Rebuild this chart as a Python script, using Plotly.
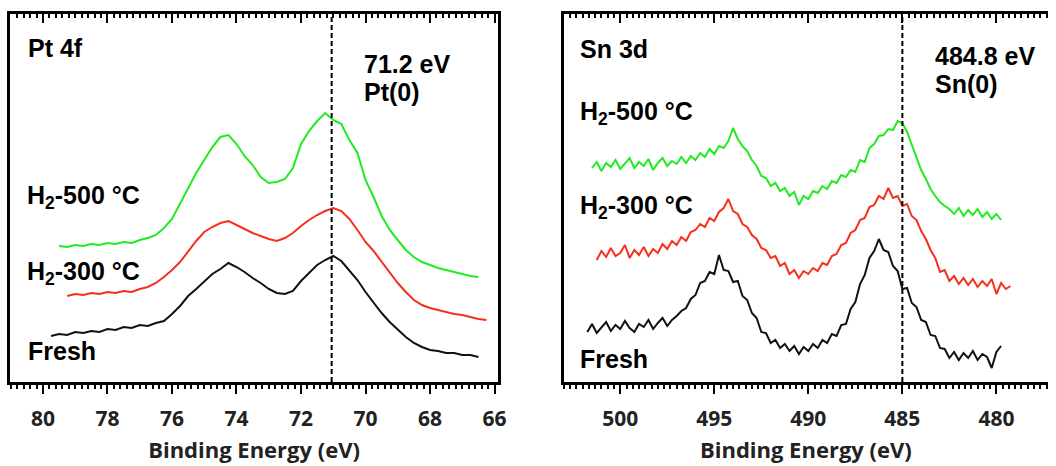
import plotly.graph_objects as go

# ---------------- data ----------------
pt_energy = [79.75, 79.5, 79.25, 79.0, 78.75, 78.5, 78.25, 78.0, 77.75, 77.5, 77.25, 77.0,
             76.75, 76.5, 76.25, 76.0, 75.75, 75.5, 75.25, 75.0, 74.75, 74.5, 74.25, 74.0,
             73.75, 73.5, 73.25, 73.0, 72.75, 72.5, 72.25, 72.0, 71.75, 71.5, 71.25, 71.0,
             70.75, 70.5, 70.25, 70.0, 69.75, 69.5, 69.25, 69.0, 68.75, 68.5, 68.25, 68.0,
             67.75, 67.5, 67.25, 67.0, 66.75, 66.5, 66.25, 66.0, 65.75]
pt_fresh = [46, 48, 47, 50, 49, 51, 50, 53, 52, 55, 54, 57,
            56, 59, 61, 68, 76, 86, 93, 101, 108, 113, 119, 115,
            110, 104, 99, 93, 89, 88, 91, 101, 109, 117, 122, 126,
            121, 112, 102, 90, 79, 69, 60, 52, 45, 39, 35, 32,
            31, 29, 29, 27, 27, 25, None, None, None]
pt_h300 = [None, None, 86, 88, 87, 89, 88, 90, 89, 91, 90, 93,
           95, 99, 105, 112, 120, 131, 141, 150, 155, 159, 161, 157,
           153, 149, 146, 143, 141, 144, 149, 156, 162, 167, 171, 174,
           171, 163, 152, 140, 131, 120, 110, 99, 90, 82, 77, 74,
           72, 70, 68, 67, 65, 63, 62, None, None]
pt_h500 = [None, 136, 135, 137, 136, 138, 137, 139, 138, 140, 139, 142,
           144, 147, 154, 163, 178, 194, 209, 222, 235, 245, 247, 238,
           226, 217, 205, 199, 200, 203, 214, 238, 251, 261, 269, 262,
           258, 242, 229, 202, 185, 166, 152, 142, 132, 125, 120, 117,
           114, 112, 110, 108, 106, 105, None, None, None]
pt_ref_energy = 71.05

sn_energy = [501.75, 501.5, 501.25, 501.0, 500.75, 500.5, 500.25, 500.0, 499.75, 499.5,
             499.25, 499.0, 498.75, 498.5, 498.25, 498.0, 497.75, 497.5, 497.25, 497.0,
             496.75, 496.5, 496.25, 496.0, 495.75, 495.5, 495.25, 495.0, 494.75, 494.5,
             494.25, 494.0, 493.75, 493.5, 493.25, 493.0, 492.75, 492.5, 492.25, 492.0,
             491.75, 491.5, 491.25, 491.0, 490.75, 490.5, 490.25, 490.0, 489.75, 489.5,
             489.25, 489.0, 488.75, 488.5, 488.25, 488.0, 487.75, 487.5, 487.25, 487.0,
             486.75, 486.5, 486.25, 486.0, 485.75, 485.5, 485.25, 485.0, 484.75, 484.5,
             484.25, 484.0, 483.75, 483.5, 483.25, 483.0, 482.75, 482.5, 482.25, 482.0,
             481.75, 481.5, 481.25, 481.0, 480.75, 480.5, 480.25, 480.0, 479.75, 479.5,
             479.25]
sn_fresh = [50, 58, 49, 55, 60, 51, 57, 53, 61, 54,
            50, 58, 55, 62, 53, 59, 64, 56, 62, 66,
            71, 74, 83, 87, 99, 101, 110, 108, 127, 112,
            111, 100, 101, 86, 82, 69, 64, 50, 49, 39,
            42, 34, 38, 31, 36, 28, 35, 31, 38, 34,
            42, 39, 48, 46, 57, 58, 73, 80, 98, 107,
            124, 131, 143, 132, 130, 116, 111, 93, 94, 79,
            75, 62, 60, 47, 46, 34, 33, 24, 30, 22,
            29, 24, 31, 22, 28, 25, 14, 30, 36, None,
            None]
sn_h300 = [None, None, 122, 131, 125, 134, 126, 129, 137, 124,
           132, 127, 135, 126, 133, 129, 138, 133, 141, 137,
           145, 141, 150, 152, 158, 155, 164, 161, 170, 174,
           183, 171, 168, 158, 155, 147, 143, 134, 132, 124,
           126, 116, 119, 108, 112, 104, 111, 108, 114, 111,
           119, 117, 126, 128, 137, 139, 149, 152, 162, 164,
           175, 177, 186, 183, 194, 184, 186, 176, 178, 166,
           162, 151, 143, 132, 124, 110, 112, 101, 106, 98,
           104, 97, 103, 95, 101, 96, 103, 88, 99, 93,
           96]
sn_h500 = [None, 214, 220, 211, 219, 215, 222, 213, 218, 224,
           214, 220, 216, 223, 212, 219, 224, 216, 221, 218,
           225, 219, 226, 222, 229, 225, 233, 228, 236, 234,
           241, 254, 243, 236, 231, 222, 216, 206, 204, 196,
           199, 191, 194, 186, 190, 177, 186, 183, 191, 189,
           196, 193, 201, 199, 207, 205, 212, 210, 222, 220,
           234, 238, 246, 247, 253, 252, 261, 259, 250, 238,
           224, 212, 203, 193, 186, 180, 176, 173, 168, 174,
           166, 172, 167, 173, 165, 170, 163, 168, 162, None,
           None]
sn_ref_energy = 485.0

y_span = [0, 368]

GREEN = "#22ea22"
RED = "#f5301c"
BLACK = "#111111"

fig = go.Figure()

def add_curves(xs, series, xa, ya):
    for vals, col in series:
        fig.add_trace(go.Scatter(x=xs, y=vals, mode="lines", xaxis=xa, yaxis=ya,
                                 line=dict(color=col, width=2), connectgaps=False,
                                 showlegend=False, hoverinfo="skip"))

add_curves(pt_energy, [(pt_h500, GREEN), (pt_h300, RED), (pt_fresh, BLACK)], "x", "y")
add_curves(sn_energy, [(sn_h500, GREEN), (sn_h300, RED), (sn_fresh, BLACK)], "x2", "y2")

# dashed reference lines, drawn on the top axes (same range as the bottom ones)
fig.add_trace(go.Scatter(x=[pt_ref_energy, pt_ref_energy], y=y_span, mode="lines", xaxis="x3", yaxis="y",
                         line=dict(color="black", width=2, dash="5px,3px"), showlegend=False, hoverinfo="skip"))
fig.add_trace(go.Scatter(x=[sn_ref_energy, sn_ref_energy], y=y_span, mode="lines", xaxis="x4", yaxis="y2",
                         line=dict(color="black", width=2, dash="5px,3px"), showlegend=False, hoverinfo="skip"))

W, H = 1056, 466
ydom = [1 - 382 / H, 1 - 14 / H]
left_dom = [10 / W, 502 / W]
right_dom = [568 / W, 1.0]
pt_range = [81.025, 65.886]
sn_range = [503.006, 477.257]

tickfont = dict(family="Open Sans", size=21, color="#222222", weight="bold")
titlefont = dict(family="Open Sans", size=22, color="#222222", weight="bold")


def xbottom(dom, rng, dtick, minor_dtick, tick0, anchor):
    return dict(domain=dom, range=rng, autorange=False, anchor=anchor, showline=True, linewidth=3,
                linecolor="black", ticks="outside", ticklen=9, tickwidth=2, tickcolor="black",
                dtick=dtick, tick0=tick0, ticklabelstandoff=7,
                minor=dict(dtick=minor_dtick, ticks="outside", ticklen=4, tickwidth=1.5, tickcolor="black"),
                showgrid=False, zeroline=False, tickfont=tickfont,
                title=dict(text="Binding Energy (eV)", font=titlefont, standoff=12))


def xtop(dom, rng, dtick, minor_dtick, tick0, anchor):
    return dict(domain=dom, anchor=anchor, side="top", range=rng, autorange=False, showline=True,
                linewidth=3, linecolor="black", ticks="inside", ticklen=9, tickwidth=2, tickcolor="black",
                dtick=dtick, tick0=tick0,
                minor=dict(dtick=minor_dtick, ticks="inside", ticklen=4, tickwidth=1.5, tickcolor="black"),
                showticklabels=False, showgrid=False, zeroline=False)


fig.update_layout(
    width=W, height=H, margin=dict(l=0, r=0, t=0, b=0),
    paper_bgcolor="white", plot_bgcolor="rgba(0,0,0,0)",
    xaxis=xbottom(left_dom, pt_range, 2, 0.2, 80, "y"),
    xaxis2=xbottom(right_dom, sn_range, 5, 5 / 15, 480, "y2"),
    xaxis3=xtop(left_dom, pt_range, 2, 0.2, 80, "y"),
    xaxis4=xtop(right_dom, sn_range, 5, 5 / 15, 480, "y2"),
    yaxis=dict(domain=ydom, range=y_span, anchor="x", showline=True, mirror=True, linewidth=3, linecolor="black",
               showticklabels=False, ticks="", showgrid=False, zeroline=False),
    yaxis2=dict(domain=ydom, range=y_span, anchor="x2", showline=True, mirror=False, linewidth=3, linecolor="black",
                showticklabels=False, ticks="", showgrid=False, zeroline=False),
)

labels = [
    ("<b>Pt 4f</b>", 26, 47.5),
    ("<b>71.2 eV</b>", 365, 64.5),
    ("<b>Pt(0)</b>", 365, 91.5),
    ("<b>H<sub>2</sub>-500 °C</b>", 25, 197),
    ("<b>H<sub>2</sub>-300 °C</b>", 25, 272.5),
    ("<b>Fresh</b>", 26, 351),
    ("<b>Sn 3d</b>", 582, 49),
    ("<b>484.8 eV</b>", 940, 56),
    ("<b>Sn(0)</b>", 940, 84),
    ("<b>H<sub>2</sub>-500 °C</b>", 582, 113),
    ("<b>H<sub>2</sub>-300 °C</b>", 582, 207),
    ("<b>Fresh</b>", 582, 359),
]
for txt, px, py in labels:
    fig.add_annotation(text=txt, xref="paper", yref="paper", x=px / W, y=1 - py / H,
                       xanchor="left", yanchor="middle", showarrow=False,
                       font=dict(family="Liberation Sans, Arial", size=25, color="black"))

fig.write_html("out.html")
